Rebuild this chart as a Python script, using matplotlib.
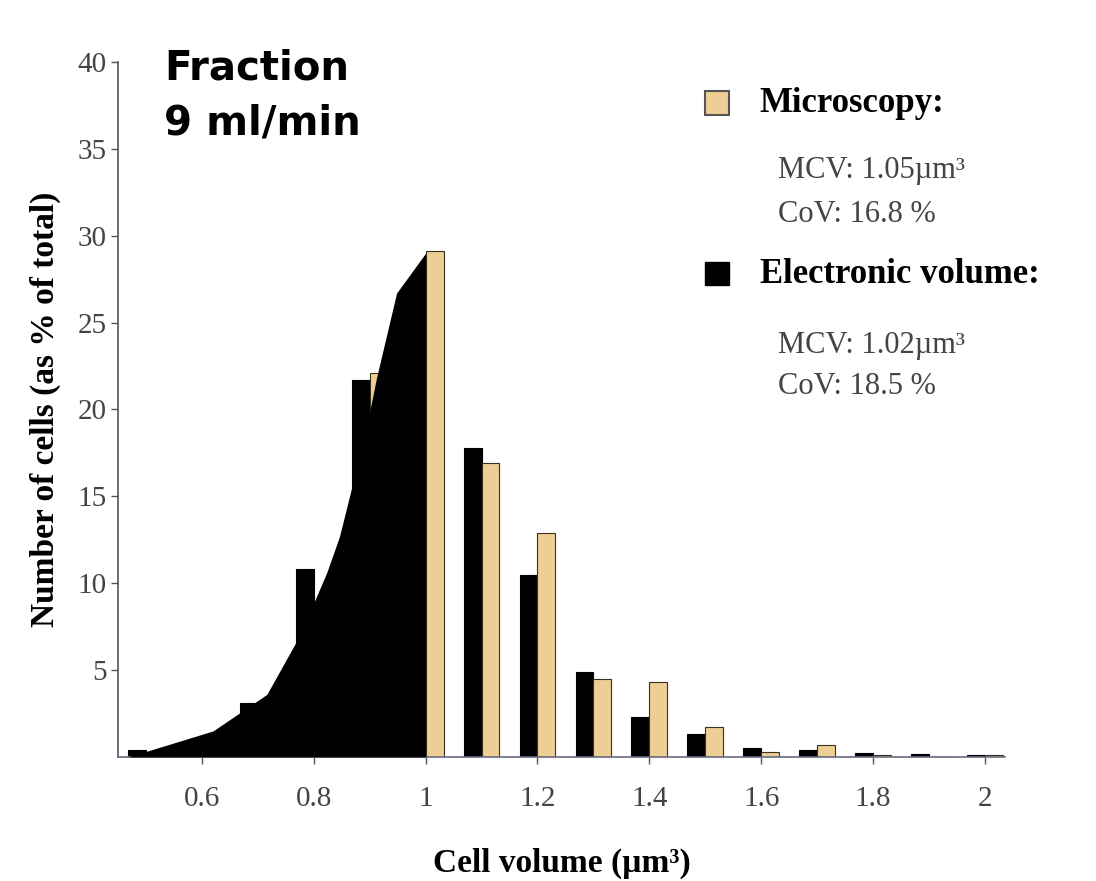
import matplotlib.pyplot as plt
import numpy as np

# bin centres (cell volume, um^3)
volume = [0.5, 0.6, 0.7, 0.8, 0.9, 1.0, 1.1, 1.2, 1.3, 1.4, 1.5, 1.6, 1.7, 1.8, 1.9, 2.0]
electronic = [0.4, 0.9, 3.1, 10.8, 21.7, 27.0, 17.8, 10.5, 4.9, 2.3, 1.3, 0.5, 0.4, 0.2, 0.15, 0.1]
microscopy = [0.0, 0.5, 2.0, 7.5, 22.1, 29.1, 16.9, 12.9, 4.5, 4.3, 1.7, 0.3, 0.7, 0.1, 0.0, 0.1]

# electronic volume distribution (filled curve)
curve_x = [0.468, 0.62, 0.716, 0.775, 0.823, 0.846, 0.87, 0.895, 0.912, 0.948, 1.0]
curve_y = [0.0, 1.5, 3.6, 7.0, 10.6, 12.7, 15.8, 19.1, 21.8, 26.7, 29.0]

tan = '#EDCF95'
serif = 'Liberation Serif'

fig = plt.figure(figsize=(10.96, 8.81), dpi=100)
ax = fig.add_axes([0.1077, 0.1408, 0.8093, 0.7888])

w = 0.032
x = np.array(volume)
ax.bar(x - w, electronic, width=w, align='edge', color='black', edgecolor='black', linewidth=0.8, zorder=2)
ax.bar(x, microscopy, width=w, align='edge', color=tan, edgecolor='#3a3020', linewidth=0.8, zorder=2)
ax.fill_between(curve_x + [1.0], curve_y + [0.0], 0, color='black', linewidth=0, zorder=3)

ax.set_xlim(0.45, 2.036)
ax.set_ylim(0, 40)
ax.set_yticks([5, 10, 15, 20, 25, 30, 35, 40])
ax.set_xticks([0.6, 0.8, 1.0, 1.2, 1.4, 1.6, 1.8, 2.0])
ax.set_xticklabels(['0.6', '0.8', '1', '1.2', '1.4', '1.6', '1.8', '2'])
for s in ['top', 'right']:
    ax.spines[s].set_visible(False)
ax.spines['left'].set_color('#555555')
ax.spines['bottom'].set_color('#6a6a80')
ax.spines['left'].set_linewidth(1.2)
ax.spines['bottom'].set_linewidth(1.2)
ax.tick_params(axis='both', length=5, width=1, color='#555555', labelsize=21, labelcolor='#444444')
ax.tick_params(axis='x', pad=16)
ax.tick_params(axis='y', pad=3)
for lab in ax.get_xticklabels() + ax.get_yticklabels():
    lab.set_family(serif)

ax.set_xlabel('Cell volume (\u00b5m\u00b3)', fontsize=24, fontweight='bold', family=serif, labelpad=26)
ax.set_ylabel('Number of cells (as % of total)', fontsize=24, fontweight='bold', family=serif, labelpad=12)

# title block
fig.text(0.15, 0.945, 'Fraction\n9 ml/min', fontsize=29, fontweight='bold', family='DejaVu Sans',
         va='top', ha='left', linespacing=1.5)

# legend-like annotations
fig.patches.append(plt.Rectangle((0.643, 0.870), 0.022, 0.027, transform=fig.transFigure,
                                 facecolor=tan, edgecolor='#555555', linewidth=1.5))
fig.text(0.693, 0.883, 'Microscopy:', fontsize=25, fontweight='bold', family=serif, va='center')
fig.text(0.71, 0.806, 'MCV: 1.05\u00b5m\u00b3', fontsize=22, family=serif, va='center', color='#444444')
fig.text(0.71, 0.756, 'CoV: 16.8 %', fontsize=22, family=serif, va='center', color='#444444')
fig.patches.append(plt.Rectangle((0.643, 0.676), 0.022, 0.027, transform=fig.transFigure,
                                 facecolor='black', edgecolor='black', linewidth=1))
fig.text(0.693, 0.688, 'Electronic volume:', fontsize=25, fontweight='bold', family=serif, va='center')
fig.text(0.71, 0.608, 'MCV: 1.02\u00b5m\u00b3', fontsize=22, family=serif, va='center', color='#444444')
fig.text(0.71, 0.561, 'CoV: 18.5 %', fontsize=22, family=serif, va='center', color='#444444')

plt.savefig('out.png', dpi=100)
